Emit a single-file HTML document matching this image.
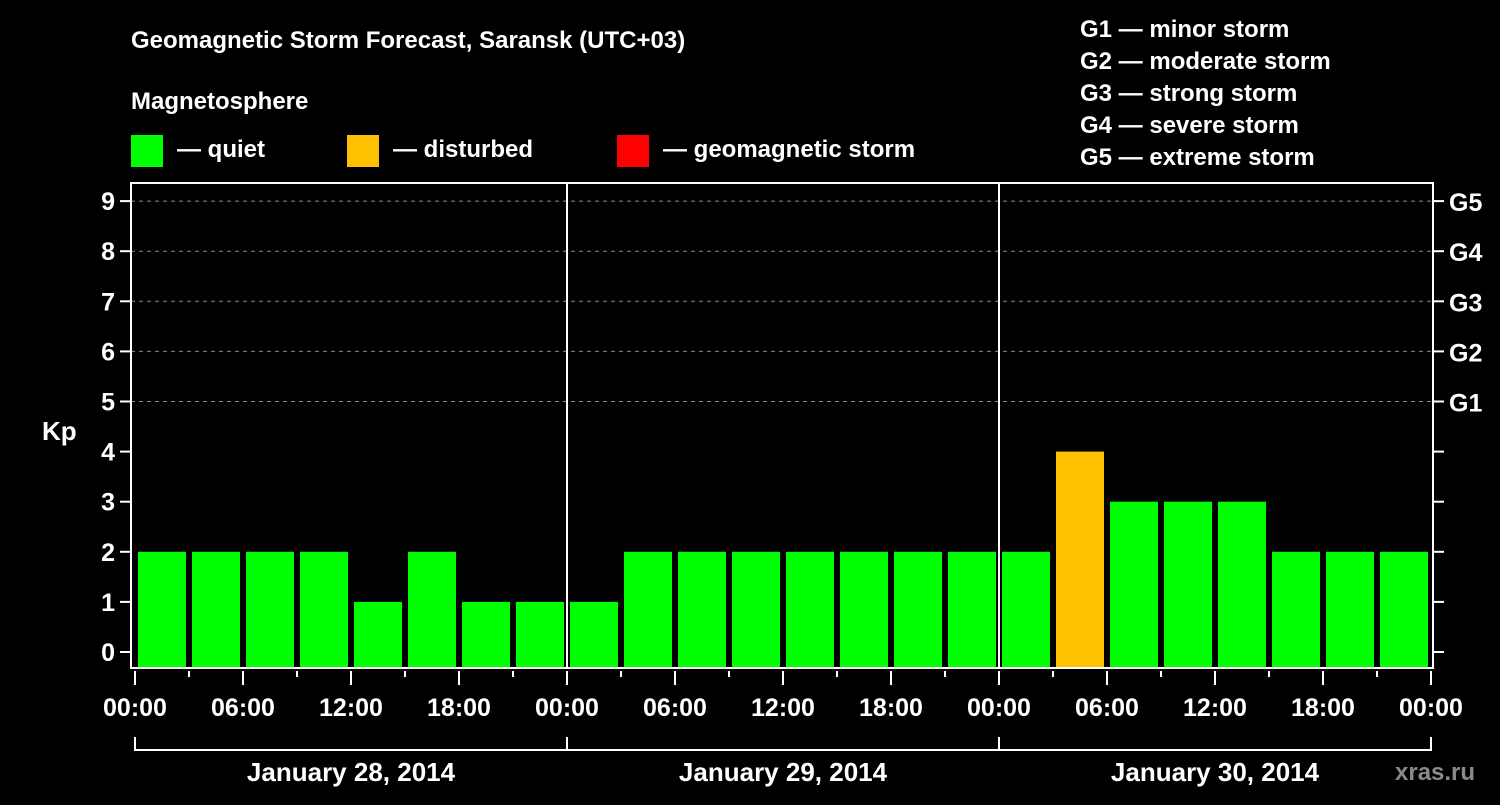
<!DOCTYPE html>
<html><head><meta charset="utf-8"><style>
body{margin:0;background:#000;width:1500px;height:800px;overflow:hidden}
svg text{font-family:"Liberation Sans",Arial,sans-serif;font-weight:bold;fill:#fff}
</style></head><body>
<svg id="c" width="1500" height="800" xmlns="http://www.w3.org/2000/svg">
<text x="131" y="48" font-size="24">Geomagnetic Storm Forecast, Saransk (UTC+03)</text>
<text x="131" y="109" font-size="24">Magnetosphere</text>
<rect x="131" y="135" width="32" height="32" fill="#00ff00"/>
<text x="177" y="157" font-size="24">— quiet</text>
<rect x="347" y="135" width="32" height="32" fill="#ffc000"/>
<text x="393" y="157" font-size="24">— disturbed</text>
<rect x="617" y="135" width="32" height="32" fill="#ff0000"/>
<text x="663" y="157" font-size="24">— geomagnetic storm</text>
<g font-size="24">
<text x="1080" y="37">G1 — minor storm</text>
<text x="1080" y="69">G2 — moderate storm</text>
<text x="1080" y="101">G3 — strong storm</text>
<text x="1080" y="133">G4 — severe storm</text>
<text x="1080" y="165">G5 — extreme storm</text>
</g>
<text x="42" y="440" font-size="26">Kp</text>
<text x="1395" y="780" font-size="24" fill="#888" style="fill:#8a8a8a">xras.ru</text>
<g id="grid"></g><g id="bars"></g><g id="axes"></g>
</svg>
<script>
const kpValues=[2,2,2,2,1,2,1,1, 1,2,2,2,2,2,2,2, 2,4,3,3,3,2,2,2];
const yTicks=[0,1,2,3,4,5,6,7,8,9];
const gLabels=["G1","G2","G3","G4","G5"];
const timeLabels=["00:00","06:00","12:00","18:00"];
const dayLabels=["January 28, 2014","January 29, 2014","January 30, 2014"];
const NS="http://www.w3.org/2000/svg";
const X0=135,SLOT=54,L=131,R=1433,T=183,B=668;
const y=v=>652-v*50.1;
const x=i=>X0+i*SLOT;
function mk(tag,attrs,parent,txt){const e=document.createElementNS(NS,tag);for(const k in attrs)e.setAttribute(k,attrs[k]);if(txt!==undefined)e.textContent=txt;document.getElementById(parent).appendChild(e);return e;}
yTicks.forEach(v=>{
 if(v>=5){const g=mk('line',{x1:L,x2:R,y1:y(v),y2:y(v),stroke:'#888','stroke-dasharray':'4,4','stroke-width':1},'grid');
 
 }
 const t=mk('line',{x1:L-11,x2:L,y1:y(v),y2:y(v),stroke:'#fff','stroke-width':2},'axes');
 
 
 const tr=mk('line',{x1:R,x2:R+11,y1:y(v),y2:y(v),stroke:'#fff','stroke-width':2},'axes');
 
 
 const lb=mk('text',{x:L-16,y:y(v)+9,'font-size':25,'text-anchor':'end'},'axes',String(v));
 
 
});
gLabels.forEach((g,i)=>{const t=mk('text',{x:1449,y:y(i+5)+10,'font-size':25},'axes',g);
 
 });
kpValues.forEach((v,i)=>{
 const col=v>=5?'#ff0000':(v>=4?'#ffc000':'#00ff00');
 const r=mk('rect',{x:x(i)+3,y:y(v),width:48,height:B-y(v),fill:col},'bars');
 
 
});
const fr=mk('rect',{x:L,y:T,width:R-L,height:B-T,fill:'none',stroke:'#fff','stroke-width':2},'axes');


for(let d=1;d<dayLabels.length;d++){const l=mk('line',{x1:x(d*8),x2:x(d*8),y1:T,y2:B,stroke:'#fff','stroke-width':2},'axes');
 
 }
for(let i=0;i<=kpValues.length;i++){
 const major=i%2===0;
 const t=mk('line',{x1:x(i),x2:x(i),y1:B+3,y2:major?B+17:B+9,stroke:'#fff','stroke-width':2},'axes');
 
 
 if(major){const lb=mk('text',{x:x(i),y:716,'font-size':25,'text-anchor':'middle'},'axes',timeLabels[(i/2)%4]);
 
 }
}
dayLabels.forEach((d,k)=>{
 const x1=x(k*8),x2=x((k+1)*8);
 const p=mk('path',{d:`M${x1},737V750H${x2}V737`,stroke:'#fff','stroke-width':2,fill:'none'},'axes');
 
 
 const t=mk('text',{x:(x1+x2)/2,y:781,'font-size':26,'text-anchor':'middle'},'axes',d);
 
 
});
</script>
</body></html>
